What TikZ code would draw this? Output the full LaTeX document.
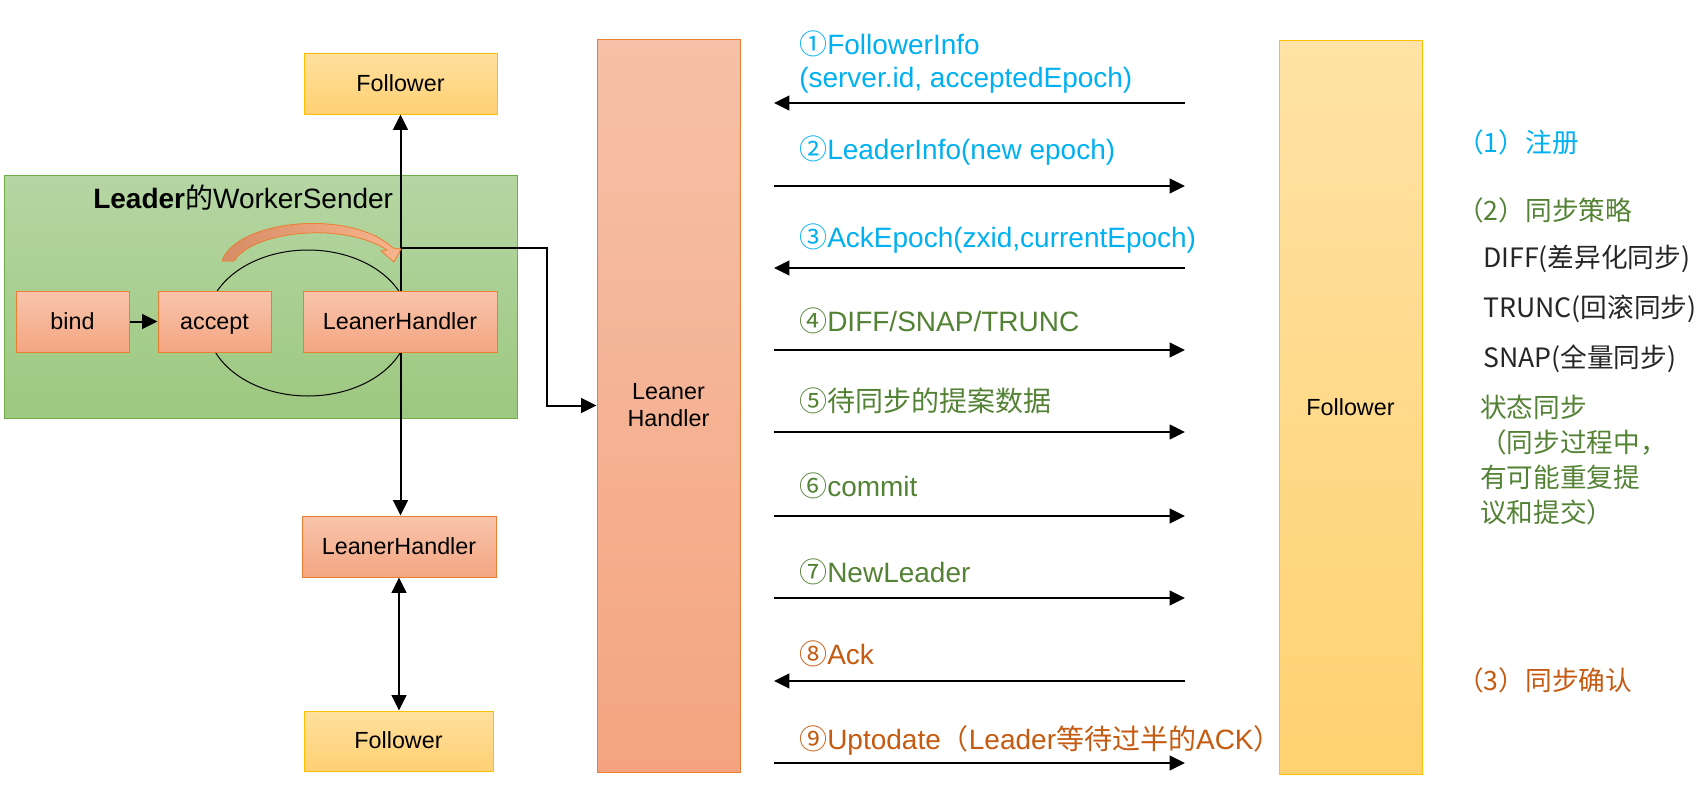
\documentclass[tikz,border=0pt]{standalone}
\usepackage{fontspec}
\setmainfont{Liberation Sans}
\newfontfamily\cjk{Noto Sans CJK SC}
\usetikzlibrary{arrows.meta}
\definecolor{blueT}{HTML}{00B0F0}
\definecolor{greenT}{HTML}{548235}
\definecolor{orangeT}{HTML}{C55A11}
\definecolor{sideK}{HTML}{262626}
\definecolor{orgB}{HTML}{ED7D31}
\definecolor{orgTop}{RGB}{248,196,172}
\definecolor{orgBot}{RGB}{244,166,130}
\definecolor{folB}{HTML}{FFC000}
\definecolor{folTop}{RGB}{255,224,158}
\definecolor{folBot}{RGB}{255,208,115}
\definecolor{grnB}{HTML}{70AD47}
\definecolor{grnTop}{RGB}{181,214,163}
\definecolor{grnBot}{RGB}{157,200,128}
\definecolor{bigLTop}{RGB}{246,193,168}
\definecolor{bigLBot}{RGB}{244,164,128}
\definecolor{bigFTop}{RGB}{255,226,165}
\definecolor{bigFBot}{RGB}{255,210,112}
\definecolor{curvL}{RGB}{214,140,100}
\definecolor{curvR}{RGB}{248,182,142}
\begin{document}
\begin{tikzpicture}[x=0.75pt,y=-0.75pt,
  obox/.style={draw=orgB, line width=0.75pt, top color=orgTop, bottom color=orgBot,
    inner sep=0pt, text height=12.6pt, text depth=1pt,
    font=\fontsize{17.5pt}{20.25pt}\selectfont},
  fbox/.style={draw=folB, line width=0.75pt, top color=folTop, bottom color=folBot,
    inner sep=0pt, text height=12.6pt, text depth=1pt,
    font=\fontsize{17.5pt}{20.25pt}\selectfont},
  msg/.style={anchor=base west, inner sep=0pt, font=\fontsize{21pt}{24pt}\selectfont},
  side/.style={anchor=base west, inner sep=0pt, font=\cjk\fontsize{20pt}{24pt}\selectfont},
  arr/.style={line width=1.5pt, -{Triangle[length=11.5pt,width=11pt]}},
  darr/.style={line width=1.5pt, {Triangle[length=11.5pt,width=11pt]}-{Triangle[length=11.5pt,width=11pt]}}
]
\useasboundingbox (0,0) rectangle (1698,800);

% green container
\node[draw=grnB, line width=0.75pt, top color=grnTop, bottom color=grnBot,
  minimum width=513*0.75pt, minimum height=243*0.75pt, inner sep=0pt] (grn) at (260.5,296.5) {};
\node[anchor=base west, inner sep=0pt, font=\fontsize{21pt}{24pt}\selectfont] (title) at (93,208)
  {\textbf{Leader}{\cjk 的}WorkerSender};

% ellipse loop
\draw[line width=0.75pt] (308,323) ellipse [x radius=101, y radius=73];

% outer nodes
\node[fbox, minimum width=193*0.75pt, minimum height=61*0.75pt] (fT) at (400.5,83.5) {Follower};
\node[obox, minimum width=194*0.75pt, minimum height=61*0.75pt] (lhB) at (399,546.5) {LeanerHandler};
\node[fbox, minimum width=189*0.75pt, minimum height=60*0.75pt] (fB) at (398.5,741) {Follower};
\node[draw=orgB, line width=0.75pt, top color=bigLTop, bottom color=bigLBot, inner sep=0pt,
  align=center, font=\fontsize{17.5pt}{20.25pt}\selectfont,
  minimum width=143*0.75pt, minimum height=733*0.75pt] (bigLH) at (668.5,405.5) {Leaner\\Handler};
\node[draw=folB, line width=0.75pt, top color=bigFTop, bottom color=bigFBot, inner sep=0pt,
  font=\fontsize{17.5pt}{20.25pt}\selectfont,
  minimum width=143*0.75pt, minimum height=734*0.75pt] (bigF) at (1350.5,407) {Follower};

% vertical connectors
\draw[darr] (fT.south) -- (fT.south |- lhB.north);
\draw[darr] (lhB.south) -- (lhB.south |- fB.north);
\coordinate (j) at (400.5,248);
\draw[arr] (j) -- ++(146.5,0) |- (bigLH.west);

% inner boxes
\node[obox, minimum width=113*0.75pt, minimum height=61*0.75pt] (bind) at (72.5,321.5) {bind};
\node[obox, minimum width=113*0.75pt, minimum height=61*0.75pt] (accept) at (214.5,321.5) {accept};
\node[obox, minimum width=194*0.75pt, minimum height=61*0.75pt] (lhI) at (400,321.5) {LeanerHandler};
\draw[arr] (bind) -- (accept);

% orange curved arrow
\path[draw=orgB, line width=0.6pt, left color=curvL, right color=curvR]
  (222,261) .. controls (236,220) and (350,208) .. (393,248)
  -- (401,249) -- (394,262) -- (381,251) -- (387,250)
  .. controls (345,222) and (254,230) .. (234,261) -- cycle;

% message arrows
\foreach \i/\yy in {1/103,2/186,3/268,4/350,5/432,6/516,7/598,8/681,9/763}{
  \coordinate (mL\i) at (774,\yy);
  \coordinate (mR\i) at (1185,\yy);
}
\draw[arr] (mR1) -- (mL1);
\draw[arr] (mL2) -- (mR2);
\draw[arr] (mR3) -- (mL3);
\draw[arr] (mL4) -- (mR4);
\draw[arr] (mL5) -- (mR5);
\draw[arr] (mL6) -- (mR6);
\draw[arr] (mL7) -- (mR7);
\draw[arr] (mR8) -- (mL8);
\draw[arr] (mL9) -- (mR9);

% message labels
\node[msg, text=blueT] (t1a) at (799,54) {{\cjk ①}FollowerInfo};
\node[msg, text=blueT] (t1b) at (799,87) {(server.id, acceptedEpoch)};
\node[msg, text=blueT] (t2) at (799,159) {{\cjk ②}LeaderInfo(new epoch)};
\node[msg, text=blueT] (t3) at (799,247) {{\cjk ③}AckEpoch(zxid,currentEpoch)};
\node[msg, text=greenT] (t4) at (799,331) {{\cjk ④}DIFF/SNAP/TRUNC};
\node[msg, text=greenT] (t5) at (799,411) {{\cjk ⑤待同步的提案数据}};
\node[msg, text=greenT] (t6) at (799,496) {{\cjk ⑥}commit};
\node[msg, text=greenT] (t7) at (799,582) {{\cjk ⑦}NewLeader};
\node[msg, text=orangeT] (t8) at (799,664) {{\cjk ⑧}Ack};
\node[msg, text=orangeT] (t9) at (799,749) {{\cjk ⑨}Uptodate{\cjk （}Leader{\cjk 等待过半的}ACK{\cjk ）}};

% right side notes
\node[side, text=blueT] (s1) at (1457,152) {（1）注册};
\node[side, text=greenT] (s2) at (1457,220) {（2）同步策略};
\node[side, text=sideK] (s3) at (1483,267) {DIFF(差异化同步)};
\node[side, text=sideK] (s4) at (1483,317) {TRUNC(回滚同步)};
\node[side, text=sideK] (s5) at (1483,367) {SNAP(全量同步)};
\node[side, text=greenT] (s6a) at (1480,417) {状态同步};
\node[side, text=greenT] (s6b) at (1480,452) {（同步过程中，};
\node[side, text=greenT] (s6c) at (1480,487) {有可能重复提};
\node[side, text=greenT] (s6d) at (1480,522) {议和提交）};
\node[side, text=orangeT] (s7) at (1457,690) {（3）同步确认};
\end{tikzpicture}
\end{document}
